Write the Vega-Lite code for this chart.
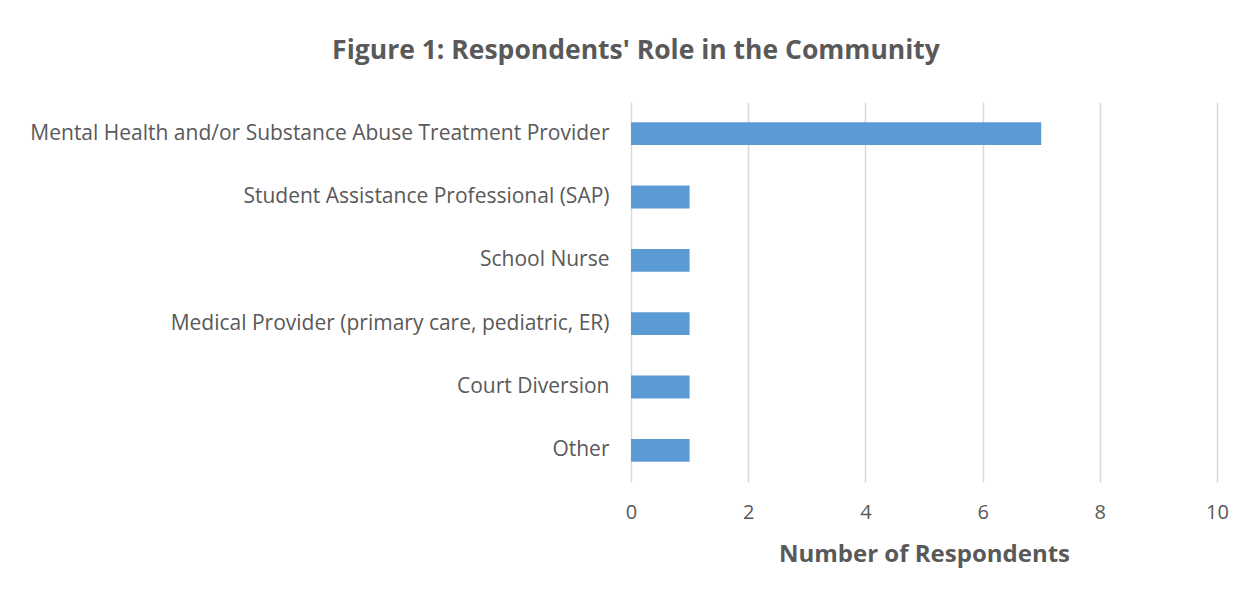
{
  "$schema": "https://vega.github.io/schema/vega-lite/v6.json",
  "width": 586,
  "height": 380,
  "autosize": {"type": "none"},
  "padding": {"left": 631, "top": 102, "right": 37, "bottom": 115},
  "background": "white",
  "title": {
    "text": "Figure 1: Respondents' Role in the Community",
    "anchor": "middle",
    "frame": "group",
    "dx": -288,
    "offset": 25,
    "font": "Open Sans",
    "fontSize": 26.5,
    "fontWeight": "bold",
    "color": "#595959",
    "baseline": "middle"
  },
  "data": {
    "values": [
      {"role": "Mental Health and/or Substance Abuse Treatment Provider", "count": 7},
      {"role": "Student Assistance Professional (SAP)", "count": 1},
      {"role": "School Nurse", "count": 1},
      {"role": "Medical Provider (primary care, pediatric, ER)", "count": 1},
      {"role": "Court Diversion", "count": 1},
      {"role": "Other", "count": 1}
    ]
  },
  "mark": {"type": "bar", "color": "#5b9bd5"},
  "encoding": {
    "y": {
      "field": "role",
      "type": "nominal",
      "sort": null,
      "scale": {"paddingInner": 0.64, "paddingOuter": 0.32},
      "axis": {
        "title": null,
        "domain": false,
        "ticks": false,
        "grid": false,
        "labelFont": "Open Sans",
        "labelFontSize": 21,
        "labelColor": "#595959",
        "labelPadding": 22,
        "labelLimit": 700
      }
    },
    "x": {
      "field": "count",
      "type": "quantitative",
      "scale": {"domain": [0, 10]},
      "axis": {
        "title": "Number of Respondents",
        "values": [0, 2, 4, 6, 8, 10],
        "domain": false,
        "ticks": false,
        "grid": true,
        "gridColor": "#d9d9d9",
        "gridWidth": 1.5,
        "labelFlush": false,
        "labelFont": "Open Sans",
        "labelFontSize": 20,
        "labelColor": "#595959",
        "labelPadding": 20,
        "titleFont": "Open Sans",
        "titleFontSize": 24,
        "titleFontWeight": "bold",
        "titleColor": "#595959",
        "titlePadding": 20
      }
    }
  },
  "config": {"view": {"stroke": null}}
}
